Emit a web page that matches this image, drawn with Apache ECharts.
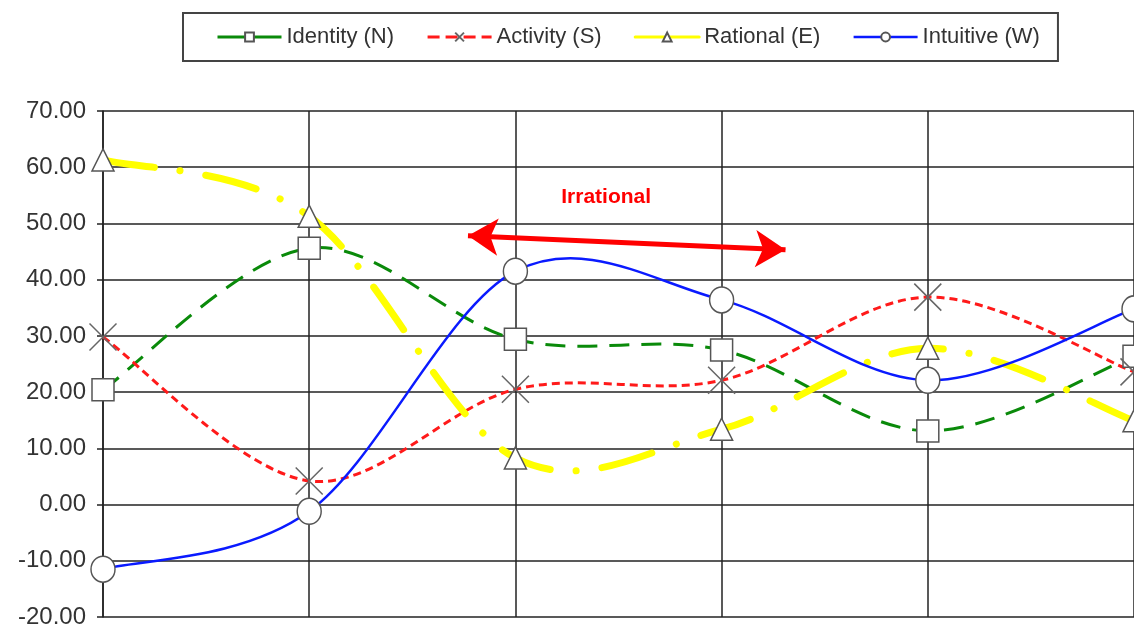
<!DOCTYPE html>
<html>
<head>
<meta charset="utf-8">
<script src="https://cdn.jsdelivr.net/npm/echarts@6/dist/echarts.min.js"></script>
<style>
  html, body { margin: 0; padding: 0; background: #fff; }
  #chart { width: 1134px; height: 631px; }
</style>
</head>
<body>
<div id="chart"></div>
<script>
// positions along the x axis (no labels shown in the picture)
const xIndex = [0, 1, 2, 3, 4, 5];

const identityN = [20.4, 45.6, 29.4, 27.5, 13.1, 26.4];
const activityS = [29.8, 4.2, 20.5, 22.1, 36.9, 23.6];
const rationalE = [61.3, 51.3, 8.3, 13.4, 27.8, 14.9];
const intuitiveW = [-11.5, -1.2, 41.5, 36.4, 22.1, 34.8];

const seriesNames = ["Identity (N)", "Activity (S)", "Rational (E)", "Intuitive (W)"];

// annotation: "Irrational" double arrow
const arrowFrom = [1.77, 47.8];
const arrowTo = [3.31, 45.3];
const noteAt = [2.44, 54.7];

const pairs = (vals) => vals.map((v, i) => [xIndex[i], v]);

const lineStyles = [
  { color: "#0a8a0a", width: 3, type: [20, 12] },
  { color: "#ff1a1a", width: 3, type: [8, 5] },
  { color: "#ffff00", width: 7, type: [52, 26, 0.1, 26], cap: "round" },
  { color: "#0a1aff", width: 2.5, type: "solid" },
];

const marker = {
  color: "#fff",
  borderColor: "#555",
  borderWidth: 1.5,
};

// excel-like smoothing (catmull-rom through the points)
function curve(vals, ls) {
  return function (params, api) {
    const p = vals.map((v, i) => api.coord([xIndex[i], v]));
    let d = "M" + p[0][0] + "," + p[0][1];
    for (let i = 0; i < p.length - 1; i++) {
      const a = p[i - 1] || p[i];
      const b = p[i];
      const c = p[i + 1];
      const e = p[i + 2] || p[i + 1];
      const c1 = [b[0] + (c[0] - a[0]) / 6, b[1] + (c[1] - a[1]) / 6];
      const c2 = [c[0] - (e[0] - b[0]) / 6, c[1] - (e[1] - b[1]) / 6];
      d += "C" + c1.join(",") + " " + c2.join(",") + " " + c.join(",");
    }
    return {
      type: "path",
      shape: { pathData: d },
      style: {
        fill: "none",
        stroke: ls.color,
        lineWidth: ls.width,
        lineDash: ls.type === "solid" ? null : ls.type,
        lineCap: ls.cap || "butt",
      },
    };
  };
}

const allVals = [identityN, activityS, rationalE, intuitiveW];

let myChart = echarts.init(document.getElementById("chart"));

var options = {
  animation: false,
  legend: {
    data: seriesNames.map((n, i) => ({
      name: n,
      lineStyle: Object.assign({ opacity: 1 }, lineStyles[i], { width: Math.min(lineStyles[i].width, 3), type: i == 1 ? "dashed" : "solid" }),
    })),
    left: 183,
    top: 13,
    padding: [13, 18, 13, 33],
    itemGap: 32,
    itemWidth: 64,
    itemHeight: 11,
    borderColor: "#444",
    borderWidth: 2,
    backgroundColor: "#fff",
    textStyle: {
      fontFamily: "Liberation Sans, Arial, sans-serif",
      fontSize: 22,
      color: "#333",
    },
  },
  grid: {
    left: 103,
    width: 1035,
    top: 111,
    bottom: 14,
    containLabel: false,
  },
  xAxis: {
    type: "value",
    min: 0,
    max: 5,
    interval: 1,
    axisLabel: { show: false },
    axisTick: { show: false },
    axisLine: { show: false },
    splitLine: {
      show: true,
      lineStyle: { color: "#222", width: 1.5 },
    },
  },
  yAxis: {
    type: "value",
    min: -20,
    max: 70,
    interval: 10,
    axisLine: {
      show: true,
      lineStyle: { color: "#222", width: 1.5 },
    },
    axisTick: {
      show: true,
      inside: false,
      length: 6,
      lineStyle: { color: "#222", width: 1.5 },
    },
    axisLabel: {
      margin: 17,
      fontFamily: "Liberation Sans, Arial, sans-serif",
      fontSize: 24,
      color: "#333",
      formatter: (v) => v.toFixed(2),
    },
    splitLine: {
      show: true,
      lineStyle: { color: "#222", width: 1.5 },
    },
  },
  series: [
    // the curves
    ...allVals.map((vals, i) => ({
      name: "curve " + i,
      type: "custom",
      data: [[0, 0]],
      renderItem: curve(vals, lineStyles[i]),
      silent: true,
      z: 2 + i * 0.1,
    })),
    // markers (legend entries)
    {
      name: seriesNames[0],
      type: "line",
      data: pairs(identityN),
      symbol: "rect",
      symbolSize: 22,
      itemStyle: marker,
      lineStyle: Object.assign({}, lineStyles[0], { opacity: 0 }),
      z: 5,
    },
    {
      name: seriesNames[1],
      type: "line",
      data: pairs(activityS),
      symbol: "path://M0,0L10,10M10,0L0,10",
      symbolSize: 27,
      itemStyle: { color: "#fff", borderColor: "#666", borderWidth: 1.5 },
      lineStyle: Object.assign({}, lineStyles[1], { opacity: 0 }),
      z: 5,
    },
    {
      name: seriesNames[2],
      type: "line",
      data: pairs(rationalE),
      symbol: "triangle",
      symbolSize: 22,
      itemStyle: marker,
      lineStyle: Object.assign({}, lineStyles[2], { opacity: 0 }),
      z: 5,
    },
    {
      name: seriesNames[3],
      type: "line",
      data: pairs(intuitiveW),
      symbol: "circle",
      symbolSize: [24, 26],
      itemStyle: marker,
      lineStyle: Object.assign({}, lineStyles[3], { opacity: 0 }),
      z: 5,
      markLine: {
        silent: true,
        symbol: ["arrow", "arrow"],
        symbolSize: [28, 30],
        lineStyle: { color: "#ff0000", width: 5, type: "solid", opacity: 1 },
        label: { show: false },
        data: [[{ coord: arrowFrom }, { coord: arrowTo }]],
      },
      markPoint: {
        silent: true,
        symbol: "circle",
        symbolSize: 1,
        itemStyle: { color: "rgba(0,0,0,0)" },
        label: {
          show: true,
          position: "inside",
          formatter: "Irrational",
          color: "#ff0000",
          fontWeight: "bold",
          fontSize: 21,
          fontFamily: "Liberation Sans Narrow, Arial Narrow, sans-serif",
        },
        data: [{ coord: noteAt }],
      },
    },
  ],
};

myChart.setOption(options);
</script>
</body>
</html>
